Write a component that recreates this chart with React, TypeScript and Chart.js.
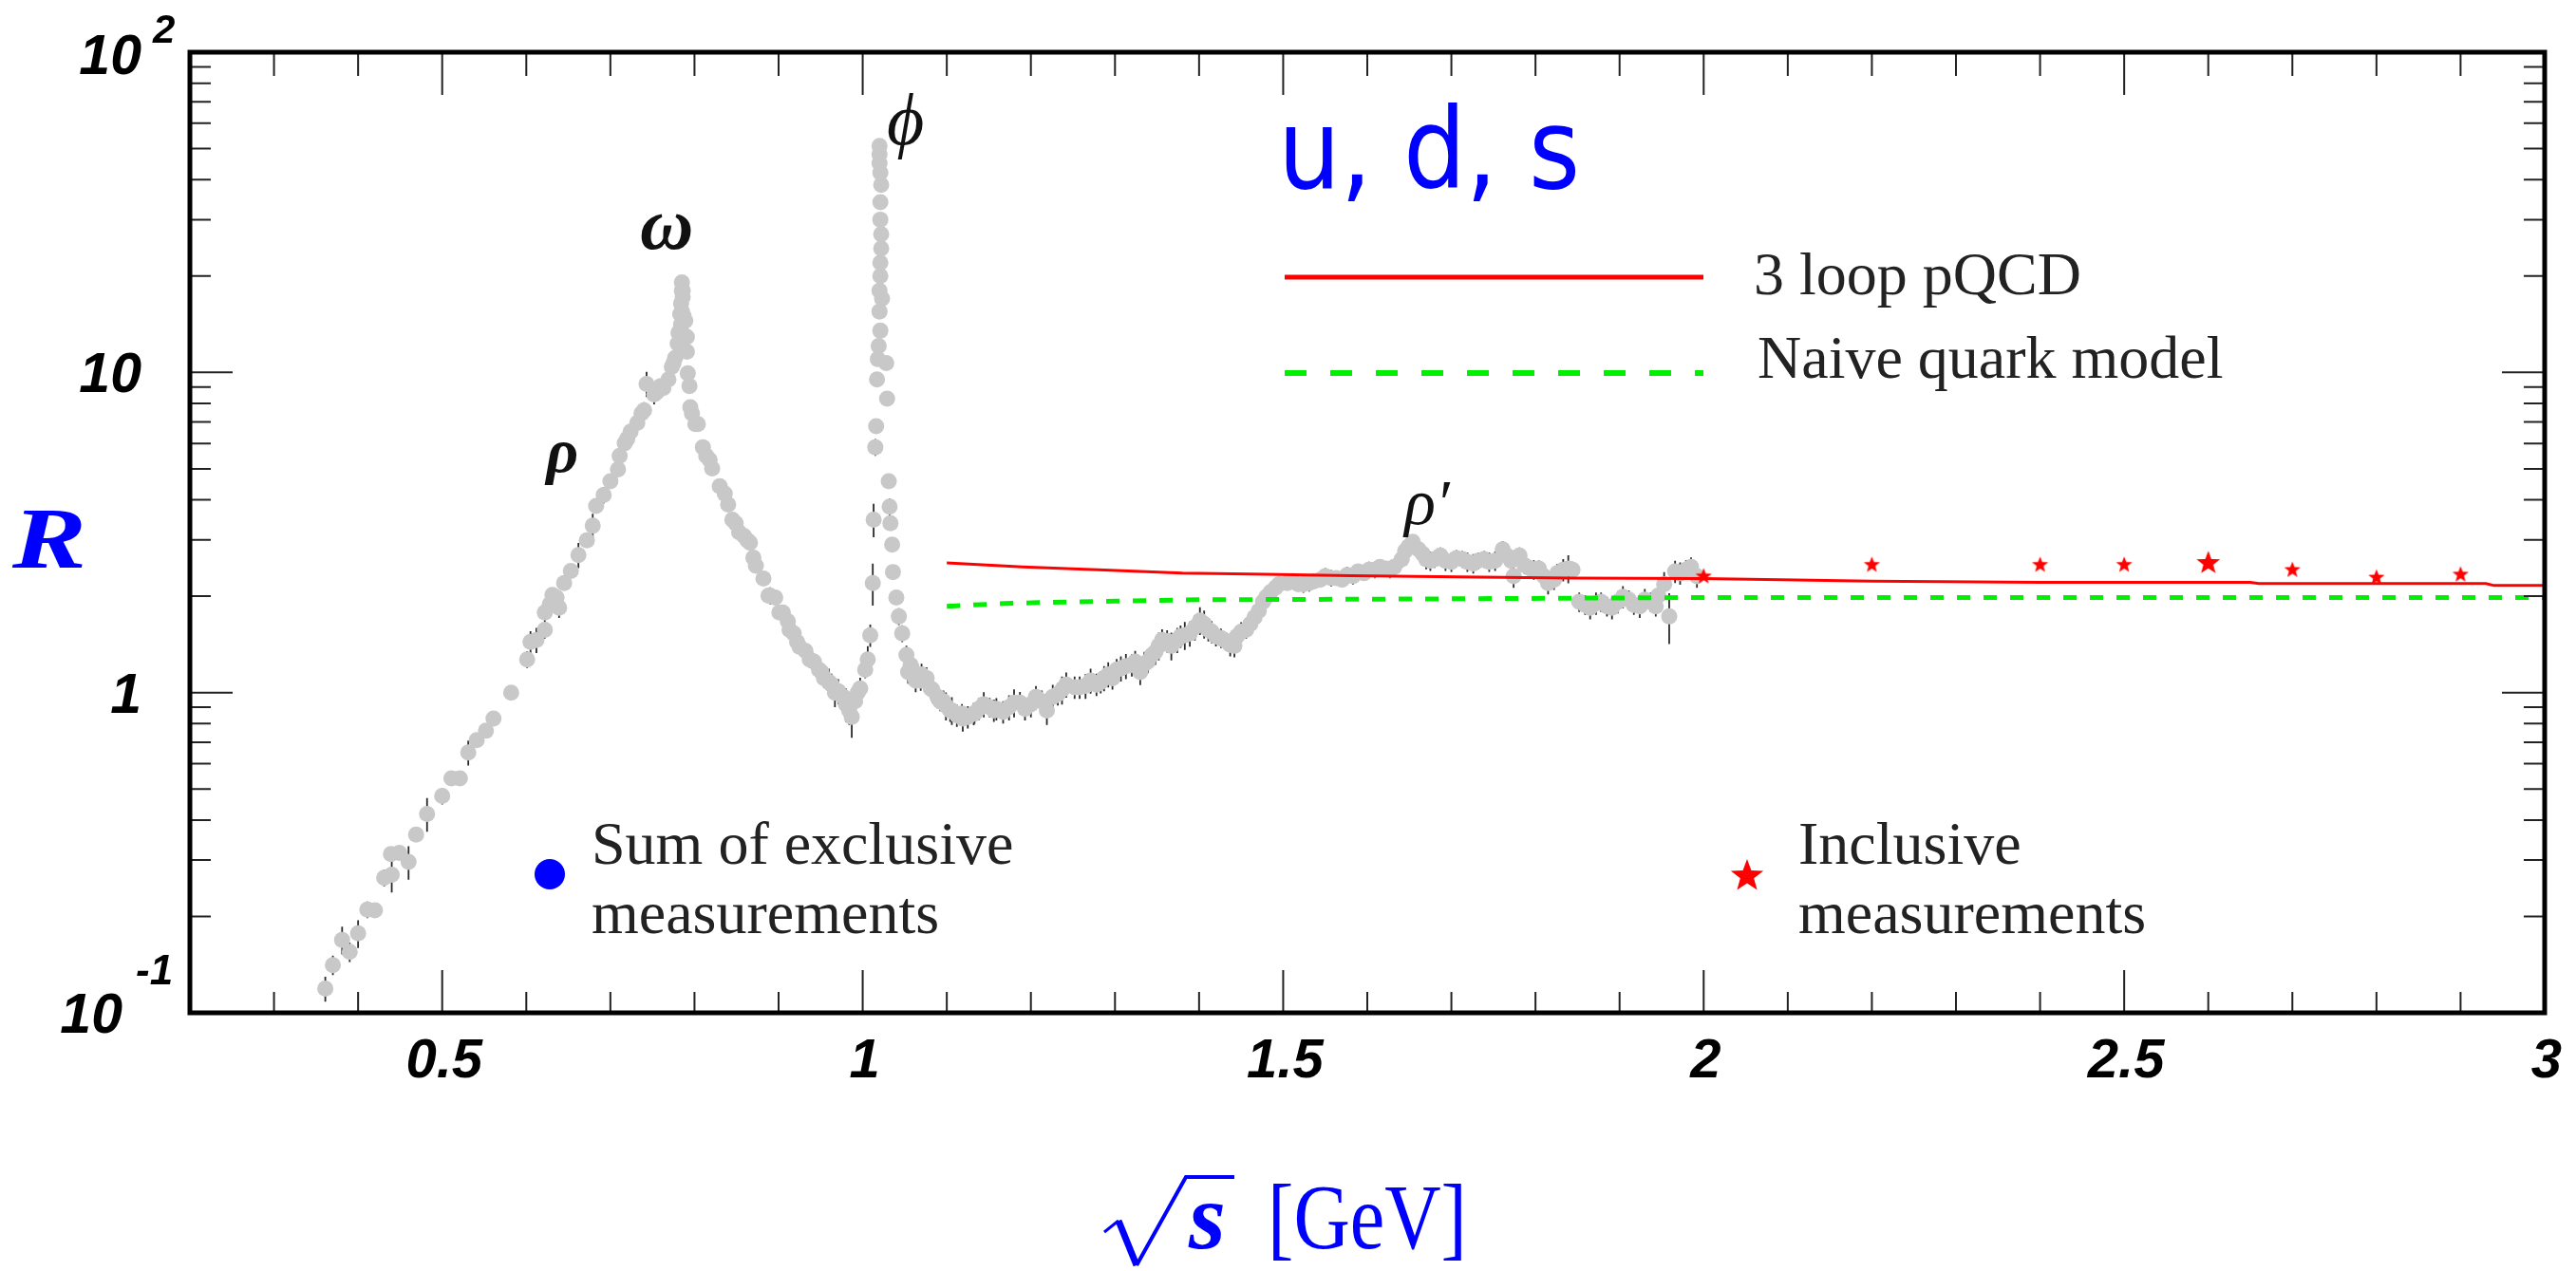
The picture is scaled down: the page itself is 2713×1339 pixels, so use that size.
import React, { useEffect, useRef } from "react";
import { Chart, registerables } from "chart.js";

Chart.register(...registerables);

const W = 2713;
const H = 1339;

// ---- Sum of exclusive measurements (sqrt(s) [GeV], R, relative error) ----
const exclX = [
  0.361, 0.370, 0.381, 0.390, 0.400, 0.411, 0.420, 0.431, 0.439, 0.440, 0.449, 0.460, 0.469, 0.482, 0.500,
  0.511, 0.521, 0.531, 0.541, 0.552, 0.561, 0.582, 0.601, 0.612, 0.622, 0.622, 0.631, 0.639, 0.645, 0.653,
  0.662, 0.672, 0.679, 0.683, 0.692, 0.700, 0.709, 0.711, 0.720, 0.724, 0.732, 0.740, 0.743, 0.752, 0.760,
  0.769, 0.773, 0.777, 0.780, 0.782, 0.784, 0.783, 0.784, 0.785, 0.785, 0.786, 0.787, 0.789, 0.791, 0.792,
  0.794, 0.795, 0.801, 0.810, 0.814, 0.821, 0.830, 0.840, 0.845, 0.853, 0.863, 0.870, 0.873, 0.882, 0.890,
  0.896, 0.901, 0.911, 0.918, 0.922, 0.932, 0.942, 0.951, 0.960, 0.967, 0.977, 0.984, 0.987, 0.994, 1.003,
  1.009, 1.012, 1.013, 1.015, 1.016, 1.017, 1.019, 1.020, 1.021, 1.022, 1.021, 1.022, 1.020, 1.020, 1.029,
  1.031, 1.032, 1.036, 1.040, 1.043, 1.047, 1.052, 1.054, 1.058, 1.063, 1.069, 1.076, 1.081, 1.089, 1.092,
  1.099, 1.104, 1.112, 1.118, 1.125, 1.133, 1.138, 1.151, 1.156, 1.167, 1.180, 1.193, 1.206, 1.219, 1.232,
  1.242, 1.252, 1.265, 1.278, 1.287, 1.297, 1.307, 1.320, 1.330, 1.339, 1.348, 1.356, 1.367, 1.378, 1.389,
  1.401, 1.411, 1.420, 1.430, 1.442, 1.450, 1.456, 1.466, 1.476, 1.485, 1.495, 1.505, 1.518, 1.531, 1.544,
  1.557, 1.570, 1.583, 1.596, 1.609, 1.622, 1.632, 1.641, 1.645, 1.654, 1.661, 1.670, 1.680, 1.693, 1.706,
  1.719, 1.732, 1.745, 1.761, 1.771, 1.774, 1.781, 1.794, 1.804, 1.815, 1.826, 1.839, 1.844, 1.852, 1.865,
  1.878, 1.891, 1.904, 1.917, 1.930, 1.943, 1.953, 1.959, 1.966, 1.979, 1.992,
  // second pass of readings
  0.605, 0.628, 0.636, 0.717, 0.737, 0.755, 0.763, 0.775, 0.781, 0.785, 0.786, 0.789, 0.791, 0.797, 0.804,
  0.818, 0.836, 0.849, 0.859, 0.866, 0.888, 0.905, 0.913, 0.925, 0.937, 0.948, 0.954, 0.963, 0.971, 0.980,
  0.991, 0.997, 1.006, 1.018, 1.020, 1.021, 1.022, 1.021, 1.021, 1.020, 1.021, 1.023, 1.028, 1.033, 1.035,
  1.057, 1.070, 1.083, 1.096, 1.106, 1.119, 1.132, 1.144, 1.159, 1.174, 1.187, 1.200, 1.213, 1.226, 1.237,
  1.258, 1.271, 1.283, 1.292, 1.302, 1.313, 1.324, 1.335, 1.344, 1.352, 1.362, 1.374, 1.383, 1.395, 1.406,
  1.415, 1.426, 1.437, 1.445, 1.461, 1.471, 1.480, 1.491, 1.511, 1.524, 1.537, 1.550, 1.563, 1.576, 1.589,
  1.602, 1.615, 1.627, 1.649, 1.666, 1.675, 1.687, 1.700, 1.713, 1.726, 1.739, 1.752, 1.766, 1.787, 1.798,
  1.810, 1.822, 1.833, 1.859, 1.872, 1.885, 1.898, 1.911, 1.924, 1.937, 1.946, 1.972, 1.985,
];
const exclR = [
  0.119, 0.141, 0.169, 0.155, 0.177, 0.210, 0.209, 0.264, 0.313, 0.270, 0.316, 0.296, 0.360, 0.418, 0.476,
  0.54, 0.54, 0.65, 0.71, 0.76, 0.83, 1.0, 1.27, 1.46, 1.57, 1.78, 2.02, 1.84, 2.2, 2.4,
  2.69, 2.99, 3.32, 3.83, 4.14, 4.57, 4.98, 5.49, 6.2, 6.53, 6.96, 7.61, 9.21, 8.54, 9.07,
  9.5, 10.4, 11.1, 12.3, 13.2, 14.1, 15.2, 16.4, 18.0, 19.1, 17.2, 15.0, 13.0, 11.6, 9.94,
  9.07, 7.79, 6.9, 5.84, 5.49, 5.01, 4.41, 3.87, 3.47, 3.17, 2.99, 2.64, 2.49, 2.27, 2.01,
  1.98, 1.78, 1.67, 1.53, 1.44, 1.35, 1.25, 1.16, 1.08, 1.0, 0.97, 0.88, 0.84, 1.0, 1.18,
  1.51, 2.2, 3.47, 5.84, 6.79, 9.5, 12.1, 15.5, 20.0, 24.4, 30.0, 38.5, 45.0, 51.0, 8.28,
  4.57, 3.81, 2.38, 1.98, 1.73, 1.53, 1.31, 1.16, 1.2, 1.09, 1.09, 1.11, 1.03, 0.97, 0.94,
  0.91, 0.88, 0.85, 0.86, 0.84, 0.86, 0.89, 0.9, 0.88, 0.87, 0.93, 0.89, 0.97, 0.88, 0.99,
  1.06, 1.04, 1.05, 1.06, 1.11, 1.11, 1.19, 1.22, 1.16, 1.25, 1.34, 1.46, 1.4, 1.5, 1.53,
  1.68, 1.57, 1.5, 1.46, 1.4, 1.55, 1.57, 1.72, 1.92, 2.06, 2.18, 2.2, 2.18, 2.2, 2.25,
  2.28, 2.25, 2.31, 2.36, 2.42, 2.44, 2.47, 2.61, 2.77, 2.96, 2.8, 2.61, 2.61, 2.58, 2.63,
  2.56, 2.58, 2.56, 2.8, 2.58, 2.31, 2.68, 2.44, 2.44, 2.2, 2.36, 2.44, 2.42, 1.92, 1.84,
  1.92, 1.84, 1.99, 1.88, 1.95, 1.86, 2.18, 1.73, 2.39, 2.42, 2.31,
  // second pass of readings
  1.44, 1.89, 1.98, 6.01, 7.45, 8.67, 8.94, 10.7, 13.3, 15.5, 18.0, 14.5, 12.9, 7.45, 6.9,
  5.33, 4.18, 3.38, 3.08, 2.94, 2.01, 1.78, 1.57, 1.39, 1.27, 1.18, 1.11, 1.06, 1.01, 0.92,
  0.94, 1.03, 1.27, 11.0, 18.0, 22.0, 27.0, 34.0, 42.0, 48.0, 13.5, 17.0, 10.7, 3.38, 2.9,
  1.22, 1.14, 1.02, 0.94, 0.88, 0.83, 0.86, 0.92, 0.89, 0.9, 0.93, 0.92, 0.94, 0.97, 1.02,
  1.04, 1.09, 1.08, 1.14, 1.18, 1.21, 1.25, 1.23, 1.31, 1.4, 1.45, 1.46, 1.51, 1.6, 1.64,
  1.55, 1.48, 1.41, 1.5, 1.64, 1.8, 1.99, 2.13, 2.23, 2.18, 2.23, 2.31, 2.28, 2.33, 2.39,
  2.42, 2.47, 2.42, 2.86, 2.71, 2.58, 2.68, 2.56, 2.61, 2.53, 2.61, 2.58, 2.68, 2.5, 2.42,
  2.31, 2.25, 2.42, 1.88, 1.9, 1.86, 1.92, 1.95, 1.86, 1.92, 2.01, 2.36, 2.47,
];
const exclErr = [
  0.09, 0.07, 0.1, 0.07, 0.1, 0.06, 0.03, 0.06, 0.04, 0.12, 0.03, 0.12, 0.03, 0.12, 0.06,
  0.04, 0.03, 0.09, 0.04, 0.05, 0.05, 0.02, 0.06, 0.09, 0.06, 0.08, 0.04, 0.07, 0.05, 0.05,
  0.09, 0.03, 0.09, 0.03, 0.06, 0.04, 0.05, 0.03, 0.03, 0.02, 0.05, 0.06, 0.09, 0.07, 0.03,
  0.03, 0.03, 0.03, 0.03, 0.03, 0.03, 0.03, 0.03, 0.03, 0.03, 0.03, 0.03, 0.03, 0.03, 0.03,
  0.03, 0.03, 0.03, 0.03, 0.03, 0.03, 0.03, 0.04, 0.04, 0.04, 0.04, 0.04, 0.04, 0.04, 0.06,
  0.04, 0.05, 0.04, 0.05, 0.05, 0.05, 0.06, 0.06, 0.1, 0.1, 0.08, 0.1, 0.14, 0.08, 0.06,
  0.08, 0.15, 0.12, 0.06, 0.05, 0.04, 0.03, 0.03, 0.03, 0.03, 0.03, 0.03, 0.03, 0.03, 0.04,
  0.05, 0.06, 0.05, 0.05, 0.06, 0.06, 0.07, 0.08, 0.06, 0.08, 0.07, 0.08, 0.07, 0.08, 0.07,
  0.1, 0.08, 0.08, 0.07, 0.08, 0.07, 0.08, 0.07, 0.08, 0.08, 0.1, 0.08, 0.08, 0.1, 0.08,
  0.09, 0.08, 0.09, 0.08, 0.09, 0.08, 0.09, 0.08, 0.09, 0.08, 0.09, 0.08, 0.1, 0.08, 0.09,
  0.1, 0.08, 0.07, 0.06, 0.08, 0.07, 0.06, 0.06, 0.05, 0.05, 0.05, 0.05, 0.05, 0.06, 0.05,
  0.06, 0.05, 0.06, 0.05, 0.06, 0.05, 0.06, 0.06, 0.05, 0.05, 0.06, 0.07, 0.06, 0.07, 0.06,
  0.07, 0.06, 0.07, 0.06, 0.07, 0.08, 0.06, 0.06, 0.06, 0.08, 0.07, 0.1, 0.06, 0.07, 0.08,
  0.07, 0.08, 0.08, 0.07, 0.08, 0.07, 0.09, 0.18, 0.08, 0.07, 0.08,
  // second pass of readings
  0.08, 0.06, 0.05, 0.04, 0.05, 0.04, 0.04, 0.03, 0.03, 0.03, 0.03, 0.03, 0.03, 0.03, 0.03,
  0.03, 0.04, 0.04, 0.04, 0.04, 0.05, 0.05, 0.05, 0.05, 0.06, 0.06, 0.07, 0.08, 0.09, 0.12,
  0.1, 0.08, 0.1, 0.03, 0.03, 0.03, 0.03, 0.03, 0.03, 0.03, 0.03, 0.03, 0.04, 0.05, 0.05,
  0.07, 0.08, 0.09, 0.08, 0.1, 0.09, 0.08, 0.09, 0.08, 0.09, 0.08, 0.09, 0.08, 0.09, 0.1,
  0.08, 0.09, 0.08, 0.09, 0.08, 0.09, 0.08, 0.09, 0.08, 0.1, 0.08, 0.09, 0.1, 0.09, 0.1,
  0.08, 0.07, 0.08, 0.07, 0.06, 0.06, 0.05, 0.05, 0.05, 0.06, 0.05, 0.06, 0.05, 0.06, 0.05,
  0.06, 0.05, 0.06, 0.05, 0.06, 0.07, 0.06, 0.07, 0.06, 0.07, 0.06, 0.07, 0.06, 0.06, 0.07,
  0.08, 0.07, 0.08, 0.07, 0.08, 0.07, 0.08, 0.07, 0.08, 0.07, 0.09, 0.08, 0.07,
];

// ---- 3 loop pQCD ----
const qcdX = [1.1, 1.19, 1.28, 1.38, 1.48, 1.58, 1.71, 1.84, 2.0, 2.2, 2.4, 2.65, 2.66, 2.93, 2.94, 3.0];
const qcdR = [2.54, 2.47, 2.42, 2.36, 2.34, 2.32, 2.3, 2.28, 2.27, 2.23, 2.21, 2.21, 2.19, 2.19, 2.16, 2.16];

// ---- Naive quark model ----
const naiveX = [1.1, 1.17, 1.21, 1.3, 1.4, 1.64, 1.97, 3.0];
const naiveR = [1.86, 1.9, 1.91, 1.93, 1.95, 1.96, 1.98, 1.98];

// ---- Inclusive measurements ----
const inclX = [2.0, 2.2, 2.4, 2.5, 2.6, 2.7, 2.8, 2.9];
const inclR = [2.32, 2.52, 2.52, 2.52, 2.56, 2.43, 2.3, 2.35];
const inclLarge = [false, false, false, false, true, false, false, false];

// ---- Axis ticks ----
const xMajor = [0.5, 1, 1.5, 2, 2.5, 3];
const xTickLabels = ["0.5", "1", "1.5", "2", "2.5", "3"];
const yMajor = [0.1, 1, 10, 100];
const yTickBase = ["10", "1", "10", "10"];
const yTickExp = ["-1", "", "", "2"];

// ---- Peak labels (position in data coordinates) ----
const peakNames = ["ρ", "ω", "ϕ", "ρ′"];
const peakX = [0.643, 0.767, 1.051, 1.671];
const peakR = [5.5, 28, 59, 3.8];
const peakFont = [
  "italic bold 66px 'Liberation Serif'",
  "italic bold 78px 'Liberation Serif'",
  "italic 76px 'Liberation Serif'",
  "italic 68px 'Liberation Serif'",
];

function starPath(ctx: CanvasRenderingContext2D, cx: number, cy: number, r: number) {
  const inner = r * 0.42;
  ctx.beginPath();
  for (let i = 0; i < 10; i++) {
    const rad = i % 2 === 0 ? r : inner;
    const a = -Math.PI / 2 + (i * Math.PI) / 5;
    const px = cx + rad * Math.cos(a);
    const py = cy + rad * Math.sin(a);
    if (i === 0) ctx.moveTo(px, py);
    else ctx.lineTo(px, py);
  }
  ctx.closePath();
}

function makeStar(r: number, color: string) {
  const c = document.createElement("canvas");
  const s = Math.ceil(2 * r + 2);
  c.width = s;
  c.height = s;
  const g = c.getContext("2d")!;
  g.fillStyle = color;
  starPath(g, s / 2, s / 2 + r * 0.1, r);
  g.fill();
  return c;
}

const errorBarPlugin = {
  id: "errorBars",
  beforeDatasetDraw(chart: any, args: any) {
    if (args.index !== 0) return;
    const meta = chart.getDatasetMeta(0);
    const ys = chart.scales.y;
    const { ctx, chartArea } = chart;
    ctx.save();
    ctx.beginPath();
    ctx.rect(chartArea.left, chartArea.top, chartArea.right - chartArea.left, chartArea.bottom - chartArea.top);
    ctx.clip();
    ctx.strokeStyle = "#2a2a2a";
    ctx.lineWidth = 1.8;
    ctx.beginPath();
    meta.data.forEach((pt: any, i: number) => {
      const r = exclR[i];
      const e = exclErr[i];
      const y1 = ys.getPixelForValue(r * (1 + e));
      const y2 = ys.getPixelForValue(r * (1 - e));
      ctx.moveTo(pt.x, y1);
      ctx.lineTo(pt.x, y2);
    });
    ctx.stroke();
    ctx.restore();
  },
};

const decorPlugin = {
  id: "decor",
  afterDraw(chart: any) {
    const { ctx, chartArea } = chart;
    const xs = chart.scales.x;
    const ys = chart.scales.y;
    const { left, right, top, bottom } = chartArea;
    ctx.save();

    // tick marks (inside, all four sides)
    ctx.strokeStyle = "#222";
    ctx.lineWidth = 2;
    ctx.beginPath();
    for (let k = 3; k <= 29; k++) {
      const v = k / 10;
      const major = k % 5 === 0;
      const len = major ? 45 : 22;
      const px = xs.getPixelForValue(v);
      ctx.moveTo(px, bottom);
      ctx.lineTo(px, bottom - len);
      ctx.moveTo(px, top);
      ctx.lineTo(px, top + (major ? 45 : 25));
    }
    [0.1, 1, 10].forEach((dec) => {
      for (let m = 1; m <= 9; m++) {
        const v = dec * m;
        if (m === 1 && dec === 0.1) continue;
        const major = m === 1;
        const len = major ? 45 : 22;
        const py = ys.getPixelForValue(v);
        ctx.moveTo(left, py);
        ctx.lineTo(left + len, py);
        ctx.moveTo(right, py);
        ctx.lineTo(right - len, py);
      }
    });
    ctx.stroke();

    // frame
    ctx.strokeStyle = "#000";
    ctx.lineWidth = 5;
    ctx.strokeRect(left, top, right - left, bottom - top);

    // x tick labels
    ctx.fillStyle = "#000";
    ctx.font = "italic bold 58px 'Liberation Sans'";
    ctx.textAlign = "center";
    ctx.textBaseline = "alphabetic";
    xMajor.forEach((v, i) => {
      ctx.fillText(xTickLabels[i], xs.getPixelForValue(v) + 2, bottom + 68);
    });

    // y tick labels
    yMajor.forEach((v, i) => {
      const py = ys.getPixelForValue(v);
      const exp = yTickExp[i];
      ctx.font = "italic bold 59px 'Liberation Sans'";
      ctx.textAlign = "right";
      ctx.textBaseline = "alphabetic";
      if (exp === "-1") {
        ctx.fillText(yTickBase[i], 129, py + 21);
        ctx.font = "italic bold 44px 'Liberation Sans'";
        ctx.textAlign = "left";
        ctx.fillText(exp, 143, py - 30);
      } else if (exp) {
        ctx.fillText(yTickBase[i], 149, py + 23);
        ctx.font = "italic bold 42px 'Liberation Sans'";
        ctx.textAlign = "left";
        ctx.fillText(exp, 161, py - 10);
      } else {
        ctx.fillText(yTickBase[i], 149, py + 21);
      }
    });

    // y axis title R
    ctx.save();
    ctx.fillStyle = "#0000ff";
    ctx.translate(52, 598);
    ctx.scale(1.3, 1);
    ctx.font = "italic bold 90px 'Liberation Serif'";
    ctx.textAlign = "center";
    ctx.textBaseline = "alphabetic";
    ctx.fillText("R", 0, 0);
    ctx.restore();

    // x axis title  √s [GeV]  (radical sign drawn as a stroke)
    ctx.fillStyle = "#0000ff";
    ctx.strokeStyle = "#0000ff";
    ctx.lineJoin = "miter";
    ctx.lineWidth = 3;
    ctx.beginPath();
    ctx.moveTo(1163, 1298);
    ctx.lineTo(1178, 1286);
    ctx.stroke();
    ctx.lineWidth = 7;
    ctx.beginPath();
    ctx.moveTo(1178, 1286);
    ctx.lineTo(1197, 1333);
    ctx.stroke();
    ctx.lineWidth = 4;
    ctx.beginPath();
    ctx.moveTo(1197, 1333);
    ctx.lineTo(1249, 1240);
    ctx.lineTo(1300, 1240);
    ctx.stroke();
    ctx.textBaseline = "alphabetic";
    ctx.textAlign = "left";
    ctx.font = "italic bold 100px 'Liberation Serif'";
    ctx.fillText("s", 1252, 1315);
    ctx.font = "98px 'Liberation Serif'";
    ctx.fillText("[GeV]", 1335, 1315, 210);

    // peak labels
    ctx.fillStyle = "#111";
    ctx.textAlign = "center";
    ctx.textBaseline = "middle";
    peakNames.forEach((n, i) => {
      ctx.font = peakFont[i];
      ctx.fillText(n, xs.getPixelForValue(peakX[i]), ys.getPixelForValue(peakR[i]));
    });

    // u, d, s
    ctx.fillStyle = "#0000ff";
    ctx.textAlign = "left";
    ctx.textBaseline = "alphabetic";
    ctx.font = "118px 'DejaVu Sans'";
    ctx.fillText("u, d, s", 1346, 198, 318);

    // legend lines
    ctx.strokeStyle = "#ff0000";
    ctx.lineWidth = 5;
    ctx.beginPath();
    ctx.moveTo(1353, 292);
    ctx.lineTo(1794, 292);
    ctx.stroke();
    ctx.strokeStyle = "#00ee00";
    ctx.lineWidth = 6;
    ctx.setLineDash([23, 25]);
    ctx.beginPath();
    ctx.moveTo(1353, 393);
    ctx.lineTo(1794, 393);
    ctx.stroke();
    ctx.setLineDash([]);

    ctx.fillStyle = "#222";
    ctx.font = "64px 'Liberation Serif'";
    ctx.fillText("3 loop pQCD", 1847, 310);
    ctx.fillText("Naive quark model", 1851, 398);

    // marker legends
    ctx.fillStyle = "#0000ff";
    ctx.beginPath();
    ctx.arc(579, 921, 16, 0, Math.PI * 2);
    ctx.fill();
    ctx.fillStyle = "#222";
    ctx.fillText("Sum of exclusive", 623, 910);
    ctx.fillText("measurements", 623, 983);

    ctx.fillStyle = "#ff0000";
    starPath(ctx, 1840, 923, 18);
    ctx.fill();
    ctx.fillStyle = "#222";
    ctx.fillText("Inclusive", 1894, 910);
    ctx.fillText("measurements", 1894, 983);

    ctx.restore();
  },
};

export default function App() {
  const ref = useRef<HTMLCanvasElement | null>(null);

  useEffect(() => {
    document.body.style.margin = "0";
    document.body.style.overflow = "hidden";
    const canvas = ref.current!;
    const smallStar = makeStar(9, "#ff0000");
    const bigStar = makeStar(13, "#ff0000");

    const chart = new Chart(canvas, {
      type: "scatter",
      data: {
        datasets: [
          {
            label: "Sum of exclusive measurements",
            data: exclX.map((x, i) => ({ x, y: exclR[i] })),
            pointRadius: 8.5,
            pointBackgroundColor: "#c8c8c8",
            pointBorderWidth: 0,
            showLine: false,
            order: 4,
          } as any,
          {
            type: "line",
            label: "Naive quark model",
            data: naiveX.map((x, i) => ({ x, y: naiveR[i] })),
            borderColor: "#00ee00",
            borderWidth: 5,
            borderDash: [14, 14],
            pointRadius: 0,
            fill: false,
            tension: 0,
            order: 3,
          } as any,
          {
            type: "line",
            label: "3 loop pQCD",
            data: qcdX.map((x, i) => ({ x, y: qcdR[i] })),
            borderColor: "#ff0000",
            borderWidth: 3,
            pointRadius: 0,
            fill: false,
            tension: 0,
            order: 2,
          } as any,
          {
            label: "Inclusive measurements",
            data: inclX.map((x, i) => ({ x, y: inclR[i] })),
            pointStyle: (c: any) => (inclLarge[c.dataIndex] ? bigStar : smallStar),
            showLine: false,
            order: 1,
          } as any,
        ],
      },
      options: {
        responsive: false,
        animation: false,
        devicePixelRatio: 1,
        events: [],
        layout: { padding: { left: 200, top: 55, right: W - 2680, bottom: H - 1067 } },
        plugins: { legend: { display: false }, tooltip: { enabled: false } },
        scales: {
          x: { type: "linear", min: 0.2, max: 3, display: false },
          y: { type: "logarithmic", min: 0.1, max: 100, display: false },
        },
      } as any,
      plugins: [errorBarPlugin, decorPlugin],
    });
    return () => chart.destroy();
  }, []);

  return (
    <div style={{ position: "absolute", left: 0, top: 0, width: W, height: H, background: "#fff" }}>
      <canvas ref={ref} width={W} height={H} style={{ display: "block", width: W, height: H }} />
    </div>
  );
}
